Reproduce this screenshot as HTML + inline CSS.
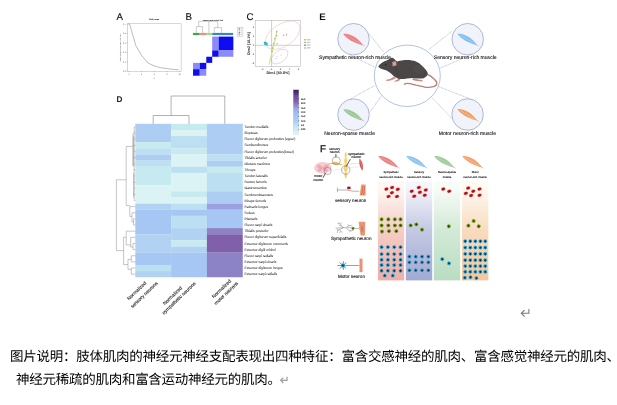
<!DOCTYPE html>
<html><head><meta charset="utf-8"><title>figure</title>
<style>
html,body{margin:0;padding:0;background:#fff}
body{width:617px;height:405px;overflow:hidden;position:relative;font-family:"Liberation Sans",sans-serif}
svg{position:absolute;left:0;top:0;display:block}
text{font-family:"Liberation Sans",sans-serif;text-rendering:geometricPrecision}
</style></head><body>
<svg width="617" height="405" viewBox="0 0 617 405">
<defs>
<filter id="bl" x="-2%" y="-2%" width="104%" height="104%"><feGaussianBlur stdDeviation="0.5"/></filter>
</defs>
<rect width="617" height="405" fill="#fff"/>
<g filter="url(#bl)">
<text x="116.6" y="19.9" font-size="9.7" fill="#111" text-anchor="start" font-weight="normal" stroke="#111" stroke-width="0.15">A</text>
<rect x="127.4" y="23.8" width="53.7" height="47.4" fill="#fff" stroke="#a4a4a4" stroke-width="0.45"/>
<polyline fill="none" stroke="#606060" stroke-width="0.42" stroke-linejoin="round" points="128,23.8 129.7,24.3 135.8,45.6 141.8,55.7 148,63 154,65.8 160.1,67.6 166.3,68.5 172.3,69.3 178.6,69.7"/>
<text x="154.3" y="19.8" font-size="2.1" fill="#111" text-anchor="middle" font-weight="bold">Delta area</text>
<path d="M126.4 24.2H127.4" stroke="#777" stroke-width="0.35"/>
<text x="125.8" y="24.9" font-size="2.0" fill="#555" text-anchor="end" font-weight="normal">0.5</text>
<path d="M126.4 33.6H127.4" stroke="#777" stroke-width="0.35"/>
<text x="125.8" y="34.3" font-size="2.0" fill="#555" text-anchor="end" font-weight="normal">0.4</text>
<path d="M126.4 43H127.4" stroke="#777" stroke-width="0.35"/>
<text x="125.8" y="43.7" font-size="2.0" fill="#555" text-anchor="end" font-weight="normal">0.3</text>
<path d="M126.4 52.4H127.4" stroke="#777" stroke-width="0.35"/>
<text x="125.8" y="53.1" font-size="2.0" fill="#555" text-anchor="end" font-weight="normal">0.2</text>
<path d="M126.4 61.8H127.4" stroke="#777" stroke-width="0.35"/>
<text x="125.8" y="62.5" font-size="2.0" fill="#555" text-anchor="end" font-weight="normal">0.1</text>
<path d="M126.4 71H127.4" stroke="#777" stroke-width="0.35"/>
<text x="125.8" y="71.7" font-size="2.0" fill="#555" text-anchor="end" font-weight="normal">0.0</text>
<path d="M129 71.2V72.2" stroke="#777" stroke-width="0.35"/>
<text x="129" y="74.7" font-size="2.0" fill="#555" text-anchor="middle" font-weight="normal">2</text>
<path d="M141.6 71.2V72.2" stroke="#777" stroke-width="0.35"/>
<text x="141.6" y="74.7" font-size="2.0" fill="#555" text-anchor="middle" font-weight="normal">4</text>
<path d="M154.3 71.2V72.2" stroke="#777" stroke-width="0.35"/>
<text x="154.3" y="74.7" font-size="2.0" fill="#555" text-anchor="middle" font-weight="normal">6</text>
<path d="M167 71.2V72.2" stroke="#777" stroke-width="0.35"/>
<text x="167" y="74.7" font-size="2.0" fill="#555" text-anchor="middle" font-weight="normal">8</text>
<path d="M179.6 71.2V72.2" stroke="#777" stroke-width="0.35"/>
<text x="179.6" y="74.7" font-size="2.0" fill="#555" text-anchor="middle" font-weight="normal">10</text>
<text x="154.3" y="78.6" font-size="2.0" fill="#555" text-anchor="middle" font-weight="normal">k</text>
<text x="121.2" y="47.5" font-size="1.55" fill="#666" text-anchor="middle" font-weight="normal" transform="rotate(-90 121.2 47.5)">relative change in area under CDF curve</text>
<text x="185.6" y="19.9" font-size="9.7" fill="#111" text-anchor="start" font-weight="normal" stroke="#111" stroke-width="0.15">B</text>
<text x="213" y="21.1" font-size="1.95" fill="#000" text-anchor="middle" font-weight="bold">consensus matrix k=4</text>
<path d="M198.7 21.3H217.7 M198.7 21.3V26.6 M196.3 26.6H202.6 M196.3 26.6V32.9 M202.6 26.6V32.9 M208.9 21.3V32.9 M217.7 21.3V27.6 M214.3 27.6H221.6 M214.3 27.6V32.9 M221.6 27.6V32.9" fill="none" stroke="#808080" stroke-width="0.4"/>
<rect x="192.9" y="32.9" width="6.8" height="2.2" fill="#3aa84a"/>
<rect x="199.7" y="32.9" width="6.3" height="2.2" fill="#f58a8a"/>
<rect x="206" y="32.9" width="6.3" height="2.2" fill="#a8d878"/>
<rect x="212.3" y="32.9" width="20.8" height="2.2" fill="#3a86c0"/>
<rect x="212.2" y="36.6" width="6.52" height="13.83" fill="#8a8af8"/>
<rect x="218.72" y="36.6" width="14.62" height="13.83" fill="#0a0af0"/>
<rect x="212.2" y="50.43" width="6.52" height="6.32" fill="#0a0af0"/>
<rect x="218.72" y="50.43" width="14.62" height="6.32" fill="#8a8af8"/>
<rect x="206.27" y="56.75" width="5.93" height="6.12" fill="#0a0af0"/>
<rect x="193.04" y="62.88" width="6.72" height="6.32" fill="#8a8af8"/>
<rect x="199.75" y="62.88" width="6.52" height="6.32" fill="#0a0af0"/>
<rect x="193.04" y="69.2" width="6.72" height="6.52" fill="#0a0af0"/>
<rect x="199.75" y="69.2" width="6.52" height="6.52" fill="#8a8af8"/>
<rect x="237.5" y="27.2" width="5.4" height="9.1" fill="#fff" stroke="#aaa" stroke-width="0.4"/>
<rect x="238.6" y="28.3" width="1.5" height="1.3" fill="#3aa84a"/>
<rect x="240.5" y="28.7" width="1.6" height="0.5" fill="#aaa"/>
<rect x="238.6" y="30.25" width="1.5" height="1.3" fill="#a8d878"/>
<rect x="240.5" y="30.65" width="1.6" height="0.5" fill="#aaa"/>
<rect x="238.6" y="32.2" width="1.5" height="1.3" fill="#3a86c0"/>
<rect x="240.5" y="32.6" width="1.6" height="0.5" fill="#aaa"/>
<rect x="238.6" y="34.15" width="1.5" height="1.3" fill="#f58a8a"/>
<rect x="240.5" y="34.55" width="1.6" height="0.5" fill="#aaa"/>
<text x="246.4" y="20.3" font-size="9.7" fill="#111" text-anchor="start" font-weight="normal" stroke="#111" stroke-width="0.15">C</text>
<rect x="255.2" y="20.4" width="45.4" height="46.2" fill="#fff" stroke="#a0a0a0" stroke-width="0.45"/>
<path d="M271.6 20.4V66.6M255.2 45.3H300.6" stroke="#8c8c8c" stroke-width="0.42"/>
<ellipse cx="282.6" cy="35.2" rx="19.5" ry="11.2" transform="rotate(-33 282.6 35.2)" fill="none" stroke="#f0b0b0" stroke-width="0.45"/>
<ellipse cx="279.6" cy="56.6" rx="9.6" ry="5.6" transform="rotate(-38 279.6 56.6)" fill="none" stroke="#c8a8e8" stroke-width="0.45"/>
<ellipse cx="273.2" cy="47.3" rx="17.6" ry="0.5" transform="rotate(-76.8 273.2 47.3)" fill="#e6efbe" stroke="#b2ca52" stroke-width="0.28"/>
<rect x="272.15" y="47.55" width="0.95" height="0.95" fill="#74a418"/>
<rect x="273.15" y="43.15" width="0.95" height="0.95" fill="#74a418"/>
<rect x="274.35" y="38.15" width="0.95" height="0.95" fill="#74a418"/>
<rect x="276.15" y="31.35" width="0.95" height="0.95" fill="#74a418"/>
<rect x="271.55" y="51.05" width="0.95" height="0.95" fill="#74a418"/>
<circle cx="264.4" cy="42.6" r="0.75" fill="#22b8c8"/>
<circle cx="265.4" cy="43.4" r="0.75" fill="#22b8c8"/>
<circle cx="266.4" cy="42.9" r="0.75" fill="#22b8c8"/>
<circle cx="265" cy="44.4" r="0.75" fill="#22b8c8"/>
<circle cx="266.2" cy="44.3" r="0.75" fill="#22b8c8"/>
<circle cx="267.2" cy="43.8" r="0.75" fill="#22b8c8"/>
<circle cx="265.8" cy="42.2" r="0.75" fill="#22b8c8"/>
<circle cx="267" cy="44.9" r="0.75" fill="#22b8c8"/>
<circle cx="264.8" cy="43.6" r="0.75" fill="#22b8c8"/>
<path d="M276.7 34.8L277.45 36.2H275.95Z" fill="#f06060"/>
<path d="M283.6 34.3L284.35 35.7H282.85Z" fill="#f06060"/>
<path d="M286.4 33.8L287.15 35.2H285.65Z" fill="#f06060"/>
<path d="M277.1 42.8L277.85 44.2H276.35Z" fill="#f06060"/>
<path d="M276.4 56.4H277.6M277 55.8V57" stroke="#c8a0e8" stroke-width="0.35"/>
<path d="M280.6 55.2H281.8M281.2 54.6V55.8" stroke="#c8a0e8" stroke-width="0.35"/>
<path d="M275.2 58.6H276.4M275.8 58V59.2" stroke="#c8a0e8" stroke-width="0.35"/>
<text x="254.2" y="27.9" font-size="2.7" fill="#333" text-anchor="end" font-weight="normal">2</text>
<text x="254.2" y="37" font-size="2.7" fill="#333" text-anchor="end" font-weight="normal">1</text>
<text x="254.2" y="46.1" font-size="2.7" fill="#333" text-anchor="end" font-weight="normal">0</text>
<text x="254.2" y="55.2" font-size="2.7" fill="#333" text-anchor="end" font-weight="normal">-1</text>
<text x="254.2" y="64.4" font-size="2.7" fill="#333" text-anchor="end" font-weight="normal">-2</text>
<text x="262.4" y="69.6" font-size="2.7" fill="#333" text-anchor="middle" font-weight="normal">-2</text>
<text x="271.6" y="69.6" font-size="2.7" fill="#333" text-anchor="middle" font-weight="normal">0</text>
<text x="280.6" y="69.6" font-size="2.7" fill="#333" text-anchor="middle" font-weight="normal">2</text>
<text x="289.6" y="69.6" font-size="2.7" fill="#333" text-anchor="middle" font-weight="normal">4</text>
<text x="298.6" y="69.6" font-size="2.7" fill="#333" text-anchor="middle" font-weight="normal">6</text>
<text x="278" y="73.8" font-size="3.7" fill="#222" text-anchor="middle" font-weight="bold">Dim1 [60.8%]</text>
<text x="249.6" y="43.6" font-size="3.7" fill="#222" text-anchor="middle" font-weight="bold" transform="rotate(-90 249.6 43.6)">Dim2 [16.1%]</text>
<rect x="304" y="38.9" width="2.1" height="1.5" rx="0.4" fill="#f4a0a0"/>
<rect x="306.9" y="39.1" width="3.7" height="0.5" fill="#999"/>
<rect x="306.9" y="39.9" width="3.0" height="0.4" fill="#b0b0b0"/>
<rect x="304" y="41.68" width="2.1" height="1.5" rx="0.4" fill="#a8cc50"/>
<rect x="306.9" y="41.88" width="3.7" height="0.5" fill="#999"/>
<rect x="306.9" y="42.68" width="3.0" height="0.4" fill="#b0b0b0"/>
<rect x="304" y="44.46" width="2.1" height="1.5" rx="0.4" fill="#30c4d4"/>
<rect x="306.9" y="44.66" width="3.7" height="0.5" fill="#999"/>
<rect x="306.9" y="45.46" width="3.0" height="0.4" fill="#b0b0b0"/>
<rect x="304" y="47.24" width="2.1" height="1.5" rx="0.4" fill="#d0a8f4"/>
<rect x="306.9" y="47.44" width="3.7" height="0.5" fill="#999"/>
<rect x="306.9" y="48.24" width="3.0" height="0.4" fill="#b0b0b0"/>
<text x="116.5" y="102.4" font-size="8.2" fill="#222" text-anchor="start" font-weight="bold">D</text>
<rect x="135.3" y="123.8" width="35.85" height="18.46" fill="#aecdf2"/>
<rect x="135.3" y="142.21" width="35.85" height="6.19" fill="#c7e9f0"/>
<rect x="135.3" y="148.34" width="35.85" height="6.19" fill="#bcdff2"/>
<rect x="135.3" y="154.48" width="35.85" height="6.19" fill="#aecdf2"/>
<rect x="135.3" y="160.62" width="35.85" height="6.19" fill="#bcdff2"/>
<rect x="135.3" y="166.75" width="35.85" height="18.46" fill="#c7e9f0"/>
<rect x="135.3" y="185.16" width="35.85" height="18.46" fill="#dcf3f6"/>
<rect x="135.3" y="203.57" width="35.85" height="6.19" fill="#b2d2f4"/>
<rect x="135.3" y="209.7" width="35.85" height="24.59" fill="#a6c6f4"/>
<rect x="135.3" y="234.25" width="35.85" height="18.46" fill="#b2d2f4"/>
<rect x="135.3" y="252.66" width="35.85" height="12.32" fill="#a6c6f4"/>
<rect x="135.3" y="264.93" width="35.85" height="6.19" fill="#bcdff2"/>
<rect x="135.3" y="271.06" width="35.85" height="6.19" fill="#b2d2f4"/>
<rect x="171.1" y="123.8" width="35.85" height="6.19" fill="#c7e9f0"/>
<rect x="171.1" y="129.94" width="35.85" height="6.19" fill="#dcf3f6"/>
<rect x="171.1" y="136.07" width="35.85" height="12.32" fill="#bcdff2"/>
<rect x="171.1" y="148.34" width="35.85" height="6.19" fill="#c7e9f0"/>
<rect x="171.1" y="154.48" width="35.85" height="12.32" fill="#dcf3f6"/>
<rect x="171.1" y="166.75" width="35.85" height="6.19" fill="#bcdff2"/>
<rect x="171.1" y="172.89" width="35.85" height="18.46" fill="#dcf3f6"/>
<rect x="171.1" y="191.3" width="35.85" height="6.19" fill="#c7e9f0"/>
<rect x="171.1" y="197.43" width="35.85" height="6.19" fill="#dcf3f6"/>
<rect x="171.1" y="203.57" width="35.85" height="6.19" fill="#bcdff2"/>
<rect x="171.1" y="209.7" width="35.85" height="6.19" fill="#a6c6f4"/>
<rect x="171.1" y="215.84" width="35.85" height="12.32" fill="#bcdff2"/>
<rect x="171.1" y="228.11" width="35.85" height="12.32" fill="#b2d2f4"/>
<rect x="171.1" y="240.38" width="35.85" height="6.19" fill="#c7e9f0"/>
<rect x="171.1" y="246.52" width="35.85" height="6.19" fill="#b2d2f4"/>
<rect x="171.1" y="252.66" width="35.85" height="24.59" fill="#a6c6f4"/>
<rect x="206.9" y="123.8" width="35.85" height="30.73" fill="#aecdf2"/>
<rect x="206.9" y="154.48" width="35.85" height="6.19" fill="#bcdff2"/>
<rect x="206.9" y="160.62" width="35.85" height="6.19" fill="#aecdf2"/>
<rect x="206.9" y="166.75" width="35.85" height="6.19" fill="#c7e9f0"/>
<rect x="206.9" y="172.89" width="35.85" height="18.46" fill="#bcdff2"/>
<rect x="206.9" y="191.3" width="35.85" height="12.32" fill="#aecdf2"/>
<rect x="206.9" y="203.57" width="35.85" height="6.19" fill="#9c9fe0"/>
<rect x="206.9" y="209.7" width="35.85" height="18.46" fill="#a6c6f4"/>
<rect x="206.9" y="228.11" width="35.85" height="6.19" fill="#8c82c6"/>
<rect x="206.9" y="234.25" width="35.85" height="18.46" fill="#8060aa"/>
<rect x="206.9" y="252.66" width="35.85" height="24.59" fill="#8c82c6"/>
<path d="M153.2 123.8V115.5H189V123.8M171.1 115.5V96H224.8V123.8" fill="none" stroke="#555" stroke-width="0.45"/>
<path d="M116.4 179.8V250.6 M116.4 179.8H126.2 M126.2 146.4V205.6 M126.2 146.4H132.9 M132.9 133.6V166 M126.2 205.6H129.8 M129.8 206.64V216.45 M129.8 206.64H135.3 M129.8 216.45H132 M132 212.77V221.98 M132 212.77H135.3 M132 221.98H133.6 M133.6 218.91V225.04 M133.6 218.91H135.3 M133.6 225.04H135.3 M116.4 250.6H123.6 M123.6 237.2V264.6 M123.6 237.2H126.2 M126.2 231.18V245 M126.2 231.18H135.3 M126.2 245H130.7 M130.7 237.32V247 M130.7 237.32H135.3 M130.7 247H133 M133 243.45V249.59 M133 243.45H135.3 M133 249.59H135.3 M123.6 264.6H128 M128 259.4V269.4 M128 259.4H131.3 M131.3 255.72V261.86 M131.3 255.72H135.3 M131.3 261.86H135.3 M128 269.4H131.3 M131.3 268V274.13 M131.3 268H135.3 M131.3 274.13H135.3 M134.2 126.87V200.5 M133.4 136.07V166.75 M133.6 172.89V197.43 M134.2 126.87H135.3 M133.4 133H135.3 M134.2 139.14H135.3 M133.4 145.28H135.3 M134.2 151.41H135.3 M133.4 157.55H135.3 M134.2 163.68H135.3 M133.4 169.82H135.3 M134.2 175.96H135.3 M133.4 182.09H135.3 M134.2 188.23H135.3 M133.4 194.36H135.3 M134.2 200.5H135.3" fill="none" stroke="#707070" stroke-width="0.4"/>
<text x="244.6" y="128.02" font-size="3.3" fill="#3c3c3c" text-anchor="start" font-weight="normal" stroke="#3c3c3c" stroke-width="0.06">Tendon medialis</text>
<text x="244.6" y="134.15" font-size="3.3" fill="#3c3c3c" text-anchor="start" font-weight="normal" stroke="#3c3c3c" stroke-width="0.06">Iliopsoas</text>
<text x="244.6" y="140.29" font-size="3.3" fill="#3c3c3c" text-anchor="start" font-weight="normal" stroke="#3c3c3c" stroke-width="0.06">Flexor digitorum profundus (upper)</text>
<text x="244.6" y="146.43" font-size="3.3" fill="#3c3c3c" text-anchor="start" font-weight="normal" stroke="#3c3c3c" stroke-width="0.06">Semitendinosus</text>
<text x="244.6" y="152.56" font-size="3.3" fill="#3c3c3c" text-anchor="start" font-weight="normal" stroke="#3c3c3c" stroke-width="0.06">Flexor digitorum profundus(lower)</text>
<text x="244.6" y="158.7" font-size="3.3" fill="#3c3c3c" text-anchor="start" font-weight="normal" stroke="#3c3c3c" stroke-width="0.06">Tibialis anterior</text>
<text x="244.6" y="164.83" font-size="3.3" fill="#3c3c3c" text-anchor="start" font-weight="normal" stroke="#3c3c3c" stroke-width="0.06">Gluteus maximus</text>
<text x="244.6" y="170.97" font-size="3.3" fill="#3c3c3c" text-anchor="start" font-weight="normal" stroke="#3c3c3c" stroke-width="0.06">Triceps</text>
<text x="244.6" y="177.11" font-size="3.3" fill="#3c3c3c" text-anchor="start" font-weight="normal" stroke="#3c3c3c" stroke-width="0.06">Tendon lateralis</text>
<text x="244.6" y="183.24" font-size="3.3" fill="#3c3c3c" text-anchor="start" font-weight="normal" stroke="#3c3c3c" stroke-width="0.06">Rectus femoris</text>
<text x="244.6" y="189.38" font-size="3.3" fill="#3c3c3c" text-anchor="start" font-weight="normal" stroke="#3c3c3c" stroke-width="0.06">Gastrocnemius</text>
<text x="244.6" y="195.51" font-size="3.3" fill="#3c3c3c" text-anchor="start" font-weight="normal" stroke="#3c3c3c" stroke-width="0.06">Semimembranosus</text>
<text x="244.6" y="201.65" font-size="3.3" fill="#3c3c3c" text-anchor="start" font-weight="normal" stroke="#3c3c3c" stroke-width="0.06">Biceps femoris</text>
<text x="244.6" y="207.79" font-size="3.3" fill="#3c3c3c" text-anchor="start" font-weight="normal" stroke="#3c3c3c" stroke-width="0.06">Palmaris longus</text>
<text x="244.6" y="213.92" font-size="3.3" fill="#3c3c3c" text-anchor="start" font-weight="normal" stroke="#3c3c3c" stroke-width="0.06">Soleus</text>
<text x="244.6" y="220.06" font-size="3.3" fill="#3c3c3c" text-anchor="start" font-weight="normal" stroke="#3c3c3c" stroke-width="0.06">Plantaris</text>
<text x="244.6" y="226.19" font-size="3.3" fill="#3c3c3c" text-anchor="start" font-weight="normal" stroke="#3c3c3c" stroke-width="0.06">Flexor carpi ulnaris</text>
<text x="244.6" y="232.33" font-size="3.3" fill="#3c3c3c" text-anchor="start" font-weight="normal" stroke="#3c3c3c" stroke-width="0.06">Tibialis posterior</text>
<text x="244.6" y="238.47" font-size="3.3" fill="#3c3c3c" text-anchor="start" font-weight="normal" stroke="#3c3c3c" stroke-width="0.06">Flexor digitorum superficialis</text>
<text x="244.6" y="244.6" font-size="3.3" fill="#3c3c3c" text-anchor="start" font-weight="normal" stroke="#3c3c3c" stroke-width="0.06">Extensor digitorum communis</text>
<text x="244.6" y="250.74" font-size="3.3" fill="#3c3c3c" text-anchor="start" font-weight="normal" stroke="#3c3c3c" stroke-width="0.06">Extensor digiti minimi</text>
<text x="244.6" y="256.87" font-size="3.3" fill="#3c3c3c" text-anchor="start" font-weight="normal" stroke="#3c3c3c" stroke-width="0.06">Flexor carpi radialis</text>
<text x="244.6" y="263.01" font-size="3.3" fill="#3c3c3c" text-anchor="start" font-weight="normal" stroke="#3c3c3c" stroke-width="0.06">Extensor carpi ulnaris</text>
<text x="244.6" y="269.15" font-size="3.3" fill="#3c3c3c" text-anchor="start" font-weight="normal" stroke="#3c3c3c" stroke-width="0.06">Extensor digitorum longus</text>
<text x="244.6" y="275.28" font-size="3.3" fill="#3c3c3c" text-anchor="start" font-weight="normal" stroke="#3c3c3c" stroke-width="0.06">Extensor carpi radialis</text>
<text transform="translate(136.8 290.8) rotate(-44)" x="0" y="1.6" font-size="4.85" fill="#222" stroke="#222" stroke-width="0.1" text-anchor="middle">Normalized</text>
<text transform="translate(144.2 294.75) rotate(-44)" x="0" y="1.6" font-size="4.85" fill="#222" stroke="#222" stroke-width="0.1" text-anchor="middle">sensory neurons</text>
<text transform="translate(172.4 295.7) rotate(-44)" x="0" y="1.6" font-size="4.85" fill="#222" stroke="#222" stroke-width="0.1" text-anchor="middle">Normalized</text>
<text transform="translate(178.9 298.1) rotate(-44)" x="0" y="1.6" font-size="4.85" fill="#222" stroke="#222" stroke-width="0.1" text-anchor="middle">sympathetic neurons</text>
<text transform="translate(221.5 288.8) rotate(-44)" x="0" y="1.6" font-size="4.85" fill="#222" stroke="#222" stroke-width="0.1" text-anchor="middle">Normalized</text>
<text transform="translate(226.2 293.2) rotate(-44)" x="0" y="1.6" font-size="4.85" fill="#222" stroke="#222" stroke-width="0.1" text-anchor="middle">motor neurons</text>
<linearGradient id="cb" x1="0" y1="0" x2="0" y2="1"><stop offset="0" stop-color="#35245c"/><stop offset="0.07" stop-color="#493277"/><stop offset="0.13" stop-color="#6a4a9a"/><stop offset="0.27" stop-color="#8462b0"/><stop offset="0.36" stop-color="#9488d0"/><stop offset="0.43" stop-color="#9ca8ea"/><stop offset="0.55" stop-color="#a4c0f4"/><stop offset="0.72" stop-color="#aed0f4"/><stop offset="0.83" stop-color="#c4e6f4"/><stop offset="1" stop-color="#e2f6f8"/></linearGradient>
<rect x="293.2" y="89.8" width="5.7" height="44.6" fill="url(#cb)" stroke="#b8c4d8" stroke-width="0.25"/>
<path d="M297.9 98.9H299.3" stroke="#334" stroke-width="0.4"/>
<text x="300.9" y="99.7" font-size="2.3" fill="#222" text-anchor="start" font-weight="normal" stroke="#222" stroke-width="0.08">35.0</text>
<path d="M297.9 103.3H299.3" stroke="#334" stroke-width="0.4"/>
<text x="300.9" y="104.1" font-size="2.3" fill="#222" text-anchor="start" font-weight="normal" stroke="#222" stroke-width="0.08">30.0</text>
<path d="M297.9 107.7H299.3" stroke="#334" stroke-width="0.4"/>
<text x="300.9" y="108.5" font-size="2.3" fill="#222" text-anchor="start" font-weight="normal" stroke="#222" stroke-width="0.08">25.0</text>
<path d="M297.9 112.1H299.3" stroke="#334" stroke-width="0.4"/>
<text x="300.9" y="112.9" font-size="2.3" fill="#222" text-anchor="start" font-weight="normal" stroke="#222" stroke-width="0.08">20.0</text>
<path d="M297.9 116.4H299.3" stroke="#334" stroke-width="0.4"/>
<text x="300.9" y="117.2" font-size="2.3" fill="#222" text-anchor="start" font-weight="normal" stroke="#222" stroke-width="0.08">15.0</text>
<path d="M297.9 120.8H299.3" stroke="#334" stroke-width="0.4"/>
<text x="300.9" y="121.6" font-size="2.3" fill="#222" text-anchor="start" font-weight="normal" stroke="#222" stroke-width="0.08">10.0</text>
<path d="M297.9 125.2H299.3" stroke="#334" stroke-width="0.4"/>
<text x="300.9" y="126" font-size="2.3" fill="#222" text-anchor="start" font-weight="normal" stroke="#222" stroke-width="0.08">5.0</text>
<path d="M297.9 129.6H299.3" stroke="#334" stroke-width="0.4"/>
<text x="300.9" y="130.4" font-size="2.3" fill="#222" text-anchor="start" font-weight="normal" stroke="#222" stroke-width="0.08">0.00</text>
<text x="319.3" y="19.9" font-size="9.6" fill="#111" text-anchor="start" font-weight="bold">E</text>
<path d="M369.4 34.4L383.6 52" stroke="#7684a8" stroke-width="0.5" stroke-dasharray="0.9 0.6" fill="none"/>
<path d="M349 54.4L375 67.4" stroke="#7684a8" stroke-width="0.5" stroke-dasharray="0.9 0.6" fill="none"/>
<path d="M452.2 31L428.4 49.8" stroke="#7684a8" stroke-width="0.5" stroke-dasharray="0.9 0.6" fill="none"/>
<path d="M472 54.4L439.4 68.4" stroke="#7684a8" stroke-width="0.5" stroke-dasharray="0.9 0.6" fill="none"/>
<path d="M349.9 99.3L374.6 85.6" stroke="#7684a8" stroke-width="0.5" stroke-dasharray="0.9 0.6" fill="none"/>
<path d="M368.9 113.6L381.8 95.2" stroke="#7684a8" stroke-width="0.5" stroke-dasharray="0.9 0.6" fill="none"/>
<path d="M472.3 99.7L437.4 86.2" stroke="#7684a8" stroke-width="0.5" stroke-dasharray="0.9 0.6" fill="none"/>
<path d="M452.2 118.8L431.8 97.4" stroke="#7684a8" stroke-width="0.5" stroke-dasharray="0.9 0.6" fill="none"/>
<ellipse cx="407.3" cy="75.8" rx="33.0" ry="30.7" fill="#fff" stroke="#a3b8e0" stroke-width="0.85"/>
<circle cx="353.5" cy="39.2" r="15.75" fill="#f0f3fa" stroke="#a4b0cc" stroke-width="0.9"/>
<path d="M343.3 34C346.44 38.62 354.19 43.39 363.1 45.2C358.24 38.09 348.89 32.43 343.3 34Z" fill="#ea8082"/>
<path d="M345.44 34.83L360.21 43.38" stroke="#f4b0ae" stroke-width="0.5" fill="none"/>
<path d="M362.11 44.64L364.49 45.98" stroke="#d0a8a8" stroke-width="0.6" fill="none"/>
<circle cx="467.7" cy="39.2" r="15.75" fill="#f0f3fa" stroke="#a4b0cc" stroke-width="0.9"/>
<path d="M457.5 34C460.64 38.62 468.39 43.39 477.3 45.2C472.44 38.09 463.09 32.43 457.5 34Z" fill="#86bff2"/>
<path d="M459.64 34.83L474.41 43.38" stroke="#b4d9f8" stroke-width="0.5" fill="none"/>
<path d="M476.31 44.64L478.69 45.98" stroke="#d0a8a8" stroke-width="0.6" fill="none"/>
<circle cx="353.5" cy="114.6" r="15.75" fill="#f0f3fa" stroke="#a4b0cc" stroke-width="0.9"/>
<path d="M343.3 109.4C346.44 114.02 354.19 118.79 363.1 120.6C358.24 113.49 348.89 107.83 343.3 109.4Z" fill="#9cc898"/>
<path d="M345.44 110.23L360.21 118.78" stroke="#c0deba" stroke-width="0.5" fill="none"/>
<path d="M362.11 120.04L364.49 121.38" stroke="#d0a8a8" stroke-width="0.6" fill="none"/>
<circle cx="467.6" cy="114.5" r="15.75" fill="#f0f3fa" stroke="#a4b0cc" stroke-width="0.9"/>
<path d="M457.4 109.3C460.54 113.92 468.29 118.69 477.2 120.5C472.34 113.39 462.99 107.73 457.4 109.3Z" fill="#f2a068"/>
<path d="M459.54 110.13L474.31 118.68" stroke="#f8c8a6" stroke-width="0.5" fill="none"/>
<path d="M476.21 119.94L478.59 121.28" stroke="#d0a8a8" stroke-width="0.6" fill="none"/>
<text x="355.1" y="58.9" font-size="5.05" fill="#1a1a1a" text-anchor="middle" font-weight="normal" stroke="#1a1a1a" stroke-width="0.12">Sympathetic neuron-rich muscle</text>
<text x="465.2" y="58.9" font-size="5.05" fill="#1a1a1a" text-anchor="middle" font-weight="normal" stroke="#1a1a1a" stroke-width="0.12">Sensory neuron-rich muscle</text>
<text x="349.6" y="135.1" font-size="5.05" fill="#1a1a1a" text-anchor="middle" font-weight="normal" stroke="#1a1a1a" stroke-width="0.12">Neuron-sparse muscle</text>
<text x="467.4" y="135.1" font-size="5.05" fill="#1a1a1a" text-anchor="middle" font-weight="normal" stroke="#1a1a1a" stroke-width="0.12">Motor neuron-rich muscle</text>
<path d="M427.3 74.4C430 75.4 432 76.8 433.5 78.5C435.6 80.2 436.9 81.8 436.8 83.4C436.6 85.2 435.4 86.3 433.5 86.7C431 87.4 428.4 87.5 425.8 87.3C422.4 86.8 419.2 85.8 415.9 85.1C413 84.4 410 83.4 407.1 83.4C406 83.4 405 83.7 404.3 84.2" fill="none" stroke="#bd7d75" stroke-width="1.35" stroke-linecap="round"/>
<path d="M393.8 76.4C392.4 78 390.4 78.8 386.1 79.7L386.4 80.9C390 80.7 393 79.9 396 78.2Z" fill="#c98d86"/>
<path d="M398.4 78.2C397.8 79.6 396.4 80.4 394.4 80.8L394.8 81.7C397.4 81.6 399.6 80.8 400.6 79Z" fill="#c28780"/>
<path d="M413.1 77.8C415 79.2 419 79.5 422.7 80.1L422.3 81.4C418.6 81.4 414.8 81 412.2 79.8Z" fill="#c98d86"/>
<path d="M378.4 66.3C379.6 64.4 380.6 63.6 381.7 63C383.6 61.6 385.4 60.8 387.2 60.3C388.6 59.6 390 58.4 391.6 57.7C392.6 57.6 393.4 58 393.8 58.6C394.6 59.6 395.8 60.8 397.2 61.4C400.4 60.4 403.6 59.9 407.1 59.9C410.4 59.9 413.4 60.4 415.9 61.4C418.6 62.6 420.8 64.2 422.5 66.3C424.6 68.2 426.4 70.2 427.5 72.4C428 73.6 427.6 74.8 426.9 75.7C425.6 77.2 424.2 78.2 422.5 78.5C419.4 78.9 416 78.2 412.6 77.9C408.8 77.9 405.2 79 401.6 79C399.4 78.9 397.6 78.4 396 77.4C394.2 76.6 392.8 75.4 391.6 74C390 72.4 388.2 71.2 386.1 70.2C384.2 69.6 382.4 69.2 380.6 68.5C379.4 68 378.4 67.2 378.4 66.3Z" fill="#4b4646"/>
<ellipse cx="418.6" cy="70.2" rx="6.2" ry="4.6" fill="#575252" opacity="0.4" transform="rotate(35 419.4 70.6)"/>
<path d="M396.5 66.5C395.6 70 396.6 73.6 399.4 76" fill="none" stroke="#3c3838" stroke-width="0.8" opacity="0.7"/>
<path d="M392.1 61.9L396 60.9L396.7 65.2L392.7 66.4Z" fill="#c98d86"/>
<path d="M393.3 62.6L395.4 62.1L395.8 64.7L393.7 65.3Z" fill="#d9a7a0"/>
<circle cx="385.6" cy="64.7" r="0.6" fill="#1a1616"/>
<text x="319.9" y="152.1" font-size="9.7" fill="#111" text-anchor="start" font-weight="normal" stroke="#111" stroke-width="0.3">F</text>
<ellipse cx="322.8" cy="167.9" rx="8.7" ry="5.8" fill="#f6ccd0"/>
<path d="M317.4 165.4C319.6 163.6 321.6 165.6 322.8 167.6C324 165.4 326 163.8 328.2 165.6C329 167 327.4 168 326 168.2C327.6 169 328.6 170.6 327.4 171.6C325.4 172.6 323.6 170.6 322.8 168.6C322 170.8 320 172.4 318 171.2C317 170 318.2 168.8 319.6 168.4C318 168 316.6 166.8 317.4 165.4Z" fill="#eea8b2"/>
<path d="M341 164.3L359.4 163.2" fill="none" stroke="#f2bcbc" stroke-width="0.5"/>
<path d="M330.6 170C336 170.4 341 169 346 168.4L359.4 166.5" fill="none" stroke="#bfe2f2" stroke-width="0.5"/>
<path d="M345.75 151.4C347.3 153.8 347.1 156 346.2 157.6C347.8 159.4 347.8 162 346.4 163.8C348.2 166 348.2 170.4 346.4 172.4C347.6 174.2 347.2 176.8 345.75 178.8C344.3 176.8 343.9 174.2 345.1 172.4C343.3 170.4 343.3 166 345.1 163.8C343.7 162 343.7 159.4 345.3 157.6C344.4 156 344.2 153.8 345.75 151.4Z" fill="#f5d272"/>
<path d="M326.6 165.6C327.6 163.6 329.6 163 331.4 163.1C333 162.2 334.4 161.7 335.4 161.7C336.8 161.8 338.2 162.6 339.6 163.4C340.6 163.9 341.8 164.2 343 164.4C341.6 164.9 340.4 165 339.2 164.8C337.8 164.9 336.4 164.9 335.2 164.7C333.8 164.5 332.4 164.1 331.2 164C329.6 163.9 328 164.6 326.6 165.6Z" fill="#f0bc58"/>
<circle cx="336.3" cy="160.7" r="4.0" fill="none" stroke="#555" stroke-width="0.42"/>
<circle cx="345.75" cy="170.0" r="4.1" fill="none" stroke="#555" stroke-width="0.42"/>
<circle cx="327.6" cy="171.0" r="3.6" fill="none" stroke="#555" stroke-width="0.42"/>
<path d="M335.9 153.9V157.4M350.4 159.1L346.3 166.4M325.5 173.1L323 177.8" stroke="#1a1a1a" stroke-width="0.7" fill="none"/>
<text x="334.6" y="150.4" font-size="3.1" fill="#111" text-anchor="middle" font-weight="normal" stroke="#111" stroke-width="0.1">sensory</text>
<text x="334.6" y="153.4" font-size="3.1" fill="#111" text-anchor="middle" font-weight="normal" stroke="#111" stroke-width="0.1">neuron</text>
<text x="356.4" y="154.9" font-size="3.1" fill="#111" text-anchor="middle" font-weight="normal" stroke="#111" stroke-width="0.1">sympathetic</text>
<text x="356.4" y="158" font-size="3.1" fill="#111" text-anchor="middle" font-weight="normal" stroke="#111" stroke-width="0.1">neuron</text>
<text x="318.3" y="177.4" font-size="3.1" fill="#111" text-anchor="middle" font-weight="normal" stroke="#111" stroke-width="0.1">motor</text>
<text x="318.3" y="180.6" font-size="3.1" fill="#111" text-anchor="middle" font-weight="normal" stroke="#111" stroke-width="0.1">neuron</text>
<path d="M359.6 158.6C362.6 161.4 363.6 166.2 362.6 170.8C359.8 168 358.6 163 359.6 158.6Z" fill="#d4585a"/>
<path d="M359.9 159.4C361.4 162.6 362 167 362 170" stroke="#f0a09a" stroke-width="0.4" fill="none"/>
<path d="M337.4 187.6V192.2M337.4 190H347C349 190 351 191.2 353 191.2H359.4" fill="none" stroke="#555" stroke-width="0.45"/>
<ellipse cx="348.9" cy="187.9" rx="1.9" ry="1.4" fill="#b81414"/>
<path d="M359.6 195.6L361.2 184.6H365.6V195.6Z" fill="#ef9a74"/>
<path d="M361.6 195L363 186M363.6 195L364.6 186.6" stroke="#c8503c" stroke-width="0.6" fill="none"/>
<text x="350.6" y="202" font-size="4.55" fill="#222" text-anchor="middle" font-weight="normal" stroke="#222" stroke-width="0.12">sensory neuron</text>
<path d="M353 228.4C350 226.6 346.6 228.6 343.6 227.5C341.6 226.4 340.2 224.2 338.4 222.6M341.4 225.4L339.2 225.6M340.2 224L341.8 222.4M339.4 223.4L337.6 223.8M343.6 227.5C341.6 228.4 339.6 229.4 337.8 230.4C337.4 231.4 337.4 232.4 337.2 233.2M339.6 229.4L340.6 231.6L342.6 232.2M338.4 230.2L336.6 229.4M340.6 231.6L339.4 233M343.6 227.5L335.6 228.2M346.6 227.8C347.6 225.4 350.6 224.8 352.6 226.2M347 228.6C348.6 231 351.6 231.4 353.4 230.2M349 226.2L347.6 224.4M350.6 230.6L349.4 232.2M353 228.4C355 227.4 356.6 229.2 358.6 228.2L361.6 226.2M358.6 228.2L361.2 231.4M361.6 226.2L362.4 224.4M361.2 231.4L362 233" fill="none" stroke="#5a5a5a" stroke-width="0.4"/>
<circle cx="353.0" cy="228.5" r="1.45" fill="#5f9a16"/><circle cx="353.0" cy="228.5" r="0.6" fill="#1c2a08"/>
<path d="M358.6 221.8H365.4L364.9 235.4H360.6Z" fill="#ee9a78"/>
<path d="M360.6 222.4L361.8 235M363.2 222.4L363.4 235" stroke="#dc7c64" stroke-width="0.5" fill="none"/>
<path d="M361.4 226.2L362.6 227.6L361.6 229L362.8 230.4L361.8 231.6" stroke="#7a3a30" stroke-width="0.45" fill="none"/>
<text x="351.2" y="240.2" font-size="4.55" fill="#222" text-anchor="middle" font-weight="normal" stroke="#222" stroke-width="0.12">Sympathetic neuron</text>
<path d="M343 265.5H359.4" stroke="#444" stroke-width="0.5" fill="none"/>
<path d="M343 265.5L339.4 262.4M343 265.5L339.6 268.8M343 265.5L343.4 261.2M343 265.5L343.4 269.8M343 265.5L337.4 265.5M343 265.5L346.4 262.6M343 265.5L346.2 268.6" stroke="#222" stroke-width="0.5" fill="none"/>
<circle cx="343.0" cy="265.5" r="2.1" fill="#199ad0"/><circle cx="343.0" cy="265.5" r="0.9" fill="#0e2a44"/>
<rect x="359.4" y="258.6" width="3.2" height="13.6" fill="#ef9f80"/>
<path d="M361 259V272" stroke="#c85a44" stroke-width="0.6" stroke-dasharray="1 0.6" fill="none"/>
<text x="351.4" y="277.6" font-size="4.55" fill="#222" text-anchor="middle" font-weight="normal" stroke="#222" stroke-width="0.12">Motor neuron</text>
<linearGradient id="cg0" x1="0" y1="0" x2="0" y2="1"><stop offset="0" stop-color="#fef8f4"/><stop offset="0.06" stop-color="#fef8f4"/><stop offset="0.5" stop-color="#f6ccc5"/><stop offset="1" stop-color="#f0aea6"/></linearGradient>
<rect x="377.9" y="181.6" width="26.2" height="98.8" fill="url(#cg0)"/>
<path d="M378.3 156.3C381.49 160.92 389.33 165.69 398.3 167.5C393.35 160.38 383.92 154.72 378.3 156.3Z" fill="#e88486"/>
<path d="M380.46 157.13L395.38 165.68" stroke="#f2b0ae" stroke-width="0.5" fill="none"/>
<path d="M397.3 166.94L399.7 168.28" stroke="#d0a8a8" stroke-width="0.6" fill="none"/>
<text x="391" y="172.8" font-size="2.75" fill="#111" text-anchor="middle" font-weight="normal" stroke="#111" stroke-width="0.1">Sympathetic</text>
<text x="391" y="177.7" font-size="2.75" fill="#111" text-anchor="middle" font-weight="normal" stroke="#111" stroke-width="0.1">neuron-rich muscle</text>
<linearGradient id="cg1" x1="0" y1="0" x2="0" y2="1"><stop offset="0" stop-color="#f5f5fb"/><stop offset="0.06" stop-color="#f5f5fb"/><stop offset="0.5" stop-color="#c3c8e3"/><stop offset="1" stop-color="#a2aad3"/></linearGradient>
<rect x="405.8" y="181.6" width="26.4" height="98.8" fill="url(#cg1)"/>
<path d="M406.2 156.3C409.39 160.92 417.23 165.69 426.2 167.5C421.25 160.38 411.82 154.72 406.2 156.3Z" fill="#90c4f2"/>
<path d="M408.36 157.13L423.28 165.68" stroke="#b8dcf8" stroke-width="0.5" fill="none"/>
<path d="M425.2 166.94L427.6 168.28" stroke="#d0a8a8" stroke-width="0.6" fill="none"/>
<text x="419" y="172.8" font-size="2.75" fill="#111" text-anchor="middle" font-weight="normal" stroke="#111" stroke-width="0.1">Sensory</text>
<text x="419" y="177.7" font-size="2.75" fill="#111" text-anchor="middle" font-weight="normal" stroke="#111" stroke-width="0.1">neuron-rich muscle</text>
<linearGradient id="cg2" x1="0" y1="0" x2="0" y2="1"><stop offset="0" stop-color="#f8fcf8"/><stop offset="0.06" stop-color="#f8fcf8"/><stop offset="0.5" stop-color="#d2e9d7"/><stop offset="1" stop-color="#b9ddc1"/></linearGradient>
<rect x="433.8" y="181.6" width="26.4" height="98.8" fill="url(#cg2)"/>
<path d="M434.2 156.3C437.39 160.92 445.23 165.69 454.2 167.5C449.25 160.38 439.82 154.72 434.2 156.3Z" fill="#a2cb9e"/>
<path d="M436.36 157.13L451.28 165.68" stroke="#c2e0bc" stroke-width="0.5" fill="none"/>
<path d="M453.2 166.94L455.6 168.28" stroke="#d0a8a8" stroke-width="0.6" fill="none"/>
<text x="447" y="172.8" font-size="2.75" fill="#111" text-anchor="middle" font-weight="normal" stroke="#111" stroke-width="0.1">Neuron-sparse</text>
<text x="447" y="177.7" font-size="2.75" fill="#111" text-anchor="middle" font-weight="normal" stroke="#111" stroke-width="0.1">muscle</text>
<linearGradient id="cg3" x1="0" y1="0" x2="0" y2="1"><stop offset="0" stop-color="#fffaf2"/><stop offset="0.06" stop-color="#fffaf2"/><stop offset="0.5" stop-color="#f8dbbe"/><stop offset="1" stop-color="#f4c69c"/></linearGradient>
<rect x="461.9" y="181.6" width="26.5" height="98.8" fill="url(#cg3)"/>
<path d="M462.3 156.3C465.49 160.92 473.33 165.69 482.3 167.5C477.35 160.38 467.92 154.72 462.3 156.3Z" fill="#f2a470"/>
<path d="M464.46 157.13L479.38 165.68" stroke="#f8caa8" stroke-width="0.5" fill="none"/>
<path d="M481.3 166.94L483.7 168.28" stroke="#d0a8a8" stroke-width="0.6" fill="none"/>
<text x="475.15" y="172.8" font-size="2.75" fill="#111" text-anchor="middle" font-weight="normal" stroke="#111" stroke-width="0.1">Motor</text>
<text x="475.15" y="177.7" font-size="2.75" fill="#111" text-anchor="middle" font-weight="normal" stroke="#111" stroke-width="0.1">neuron-rich muscle</text>
<ellipse cx="386.43" cy="189.09" rx="2.5" ry="1.9" fill="#e86a6a" opacity="0.45"/>
<ellipse cx="386.43" cy="189.09" rx="1.9" ry="1.35" fill="#b41010" transform="rotate(-20 386.43 189.09)"/>
<ellipse cx="392.12" cy="187.41" rx="2.5" ry="1.9" fill="#e86a6a" opacity="0.45"/>
<ellipse cx="392.12" cy="187.41" rx="1.9" ry="1.35" fill="#b41010" transform="rotate(-20 392.12 187.41)"/>
<ellipse cx="397.81" cy="189.3" rx="2.5" ry="1.9" fill="#e86a6a" opacity="0.45"/>
<ellipse cx="397.81" cy="189.3" rx="1.9" ry="1.35" fill="#b41010" transform="rotate(-20 397.81 189.3)"/>
<ellipse cx="391.91" cy="192.68" rx="2.5" ry="1.9" fill="#e86a6a" opacity="0.45"/>
<ellipse cx="391.91" cy="192.68" rx="1.9" ry="1.35" fill="#b41010" transform="rotate(-20 391.91 192.68)"/>
<ellipse cx="388.54" cy="196.47" rx="2.5" ry="1.9" fill="#e86a6a" opacity="0.45"/>
<ellipse cx="388.54" cy="196.47" rx="1.9" ry="1.35" fill="#b41010" transform="rotate(-20 388.54 196.47)"/>
<ellipse cx="396.97" cy="196.47" rx="2.5" ry="1.9" fill="#e86a6a" opacity="0.45"/>
<ellipse cx="396.97" cy="196.47" rx="1.9" ry="1.35" fill="#b41010" transform="rotate(-20 396.97 196.47)"/>
<ellipse cx="411.72" cy="191.2" rx="2.5" ry="1.9" fill="#e86a6a" opacity="0.45"/>
<ellipse cx="411.72" cy="191.2" rx="1.9" ry="1.35" fill="#b41010" transform="rotate(-20 411.72 191.2)"/>
<ellipse cx="418.88" cy="187.41" rx="2.5" ry="1.9" fill="#e86a6a" opacity="0.45"/>
<ellipse cx="418.88" cy="187.41" rx="1.9" ry="1.35" fill="#b41010" transform="rotate(-20 418.88 187.41)"/>
<ellipse cx="425.84" cy="189.94" rx="2.5" ry="1.9" fill="#e86a6a" opacity="0.45"/>
<ellipse cx="425.84" cy="189.94" rx="1.9" ry="1.35" fill="#b41010" transform="rotate(-20 425.84 189.94)"/>
<ellipse cx="419.94" cy="192.25" rx="2.5" ry="1.9" fill="#e86a6a" opacity="0.45"/>
<ellipse cx="419.94" cy="192.25" rx="1.9" ry="1.35" fill="#b41010" transform="rotate(-20 419.94 192.25)"/>
<ellipse cx="414.25" cy="196.26" rx="2.5" ry="1.9" fill="#e86a6a" opacity="0.45"/>
<ellipse cx="414.25" cy="196.26" rx="1.9" ry="1.35" fill="#b41010" transform="rotate(-20 414.25 196.26)"/>
<ellipse cx="424.78" cy="195.2" rx="2.5" ry="1.9" fill="#e86a6a" opacity="0.45"/>
<ellipse cx="424.78" cy="195.2" rx="1.9" ry="1.35" fill="#b41010" transform="rotate(-20 424.78 195.2)"/>
<ellipse cx="443.32" cy="189.09" rx="2.5" ry="1.9" fill="#e86a6a" opacity="0.45"/>
<ellipse cx="443.32" cy="189.09" rx="1.9" ry="1.35" fill="#b41010" transform="rotate(-20 443.32 189.09)"/>
<ellipse cx="449.22" cy="191.2" rx="2.5" ry="1.9" fill="#e86a6a" opacity="0.45"/>
<ellipse cx="449.22" cy="191.2" rx="1.9" ry="1.35" fill="#b41010" transform="rotate(-20 449.22 191.2)"/>
<ellipse cx="468.19" cy="188.04" rx="2.5" ry="1.9" fill="#e86a6a" opacity="0.45"/>
<ellipse cx="468.19" cy="188.04" rx="1.9" ry="1.35" fill="#b41010" transform="rotate(-20 468.19 188.04)"/>
<ellipse cx="479.57" cy="189.09" rx="2.5" ry="1.9" fill="#e86a6a" opacity="0.45"/>
<ellipse cx="479.57" cy="189.09" rx="1.9" ry="1.35" fill="#b41010" transform="rotate(-20 479.57 189.09)"/>
<ellipse cx="473.24" cy="191.2" rx="2.5" ry="1.9" fill="#e86a6a" opacity="0.45"/>
<ellipse cx="473.24" cy="191.2" rx="1.9" ry="1.35" fill="#b41010" transform="rotate(-20 473.24 191.2)"/>
<ellipse cx="465.87" cy="193.31" rx="2.5" ry="1.9" fill="#e86a6a" opacity="0.45"/>
<ellipse cx="465.87" cy="193.31" rx="1.9" ry="1.35" fill="#b41010" transform="rotate(-20 465.87 193.31)"/>
<ellipse cx="471.14" cy="195.42" rx="2.5" ry="1.9" fill="#e86a6a" opacity="0.45"/>
<ellipse cx="471.14" cy="195.42" rx="1.9" ry="1.35" fill="#b41010" transform="rotate(-20 471.14 195.42)"/>
<ellipse cx="479.57" cy="195.2" rx="2.5" ry="1.9" fill="#e86a6a" opacity="0.45"/>
<ellipse cx="479.57" cy="195.2" rx="1.9" ry="1.35" fill="#b41010" transform="rotate(-20 479.57 195.2)"/>
<polygon points="383.84,219.78 382.9,220.32 382.64,221.38 381.63,220.98 380.64,221.42 380.32,220.39 379.36,219.89 379.97,219 379.76,217.94 380.84,217.86 381.53,217.03 382.27,217.82 383.35,217.85 383.19,218.92" fill="#6f9a14"/><circle cx="381.59" cy="219.33" r="0.85" fill="#1e2c06"/>
<polygon points="390.59,219.78 389.65,220.32 389.38,221.38 388.37,220.98 387.38,221.42 387.07,220.39 386.1,219.89 386.71,219 386.5,217.94 387.58,217.86 388.28,217.03 389.01,217.82 390.09,217.85 389.93,218.92" fill="#6f9a14"/><circle cx="388.33" cy="219.33" r="0.85" fill="#1e2c06"/>
<polygon points="397.12,219.78 396.18,220.32 395.91,221.38 394.9,220.98 393.92,221.42 393.6,220.39 392.63,219.89 393.25,219 393.03,217.94 394.11,217.86 394.81,217.03 395.54,217.82 396.63,217.85 396.46,218.92" fill="#6f9a14"/><circle cx="394.86" cy="219.33" r="0.85" fill="#1e2c06"/>
<polygon points="402.81,219.78 401.87,220.32 401.6,221.38 400.59,220.98 399.6,221.42 399.29,220.39 398.32,219.89 398.93,219 398.72,217.94 399.8,217.86 400.5,217.03 401.23,217.82 402.31,217.85 402.15,218.92" fill="#6f9a14"/><circle cx="400.55" cy="219.33" r="0.85" fill="#1e2c06"/>
<polygon points="383.84,225.9 382.9,226.44 382.64,227.49 381.63,227.09 380.64,227.53 380.32,226.5 379.36,226 379.97,225.11 379.76,224.05 380.84,223.97 381.53,223.14 382.27,223.93 383.35,223.96 383.19,225.03" fill="#6f9a14"/><circle cx="381.59" cy="225.44" r="0.85" fill="#1e2c06"/>
<polygon points="390.59,225.9 389.65,226.44 389.38,227.49 388.37,227.09 387.38,227.53 387.07,226.5 386.1,226 386.71,225.11 386.5,224.05 387.58,223.97 388.28,223.14 389.01,223.93 390.09,223.96 389.93,225.03" fill="#6f9a14"/><circle cx="388.33" cy="225.44" r="0.85" fill="#1e2c06"/>
<polygon points="397.12,225.9 396.18,226.44 395.91,227.49 394.9,227.09 393.92,227.53 393.6,226.5 392.63,226 393.25,225.11 393.03,224.05 394.11,223.97 394.81,223.14 395.54,223.93 396.63,223.96 396.46,225.03" fill="#6f9a14"/><circle cx="394.86" cy="225.44" r="0.85" fill="#1e2c06"/>
<polygon points="402.81,225.9 401.87,226.44 401.6,227.49 400.59,227.09 399.6,227.53 399.29,226.5 398.32,226 398.93,225.11 398.72,224.05 399.8,223.97 400.5,223.14 401.23,223.93 402.31,223.96 402.15,225.03" fill="#6f9a14"/><circle cx="400.55" cy="225.44" r="0.85" fill="#1e2c06"/>
<polygon points="384.26,232.01 383.32,232.55 383.06,233.6 382.05,233.2 381.06,233.64 380.75,232.61 379.78,232.12 380.39,231.22 380.18,230.16 381.26,230.08 381.95,229.25 382.69,230.05 383.77,230.07 383.61,231.14" fill="#6f9a14"/><circle cx="382.01" cy="231.55" r="0.85" fill="#1e2c06"/>
<polygon points="391.22,231.58 390.28,232.12 390.01,233.17 389,232.78 388.02,233.22 387.7,232.19 386.73,231.69 387.35,230.8 387.13,229.74 388.21,229.66 388.91,228.83 389.64,229.62 390.73,229.65 390.56,230.72" fill="#6f9a14"/><circle cx="388.96" cy="231.13" r="0.85" fill="#1e2c06"/>
<polygon points="398.59,231.58 397.65,232.12 397.39,233.17 396.38,232.78 395.39,233.22 395.07,232.19 394.11,231.69 394.72,230.8 394.51,229.74 395.59,229.66 396.28,228.83 397.02,229.62 398.1,229.65 397.94,230.72" fill="#6f9a14"/><circle cx="396.34" cy="231.13" r="0.85" fill="#1e2c06"/>
<polygon points="412.92,225.9 411.98,226.44 411.71,227.49 410.71,227.09 409.72,227.53 409.4,226.5 408.44,226 409.05,225.11 408.83,224.05 409.91,223.97 410.61,223.14 411.35,223.93 412.43,223.96 412.27,225.03" fill="#6f9a14"/><circle cx="410.67" cy="225.44" r="0.85" fill="#1e2c06"/>
<polygon points="418.61,224.84 417.67,225.38 417.4,226.43 416.4,226.03 415.41,226.48 415.09,225.44 414.13,224.95 414.74,224.06 414.52,223 415.6,222.92 416.3,222.09 417.03,222.88 418.12,222.91 417.95,223.98" fill="#6f9a14"/><circle cx="416.35" cy="224.38" r="0.85" fill="#1e2c06"/>
<polygon points="424.3,230.11 423.36,230.65 423.09,231.7 422.08,231.3 421.1,231.75 420.78,230.71 419.81,230.22 420.43,229.32 420.21,228.26 421.29,228.18 421.99,227.35 422.72,228.15 423.81,228.17 423.64,229.25" fill="#6f9a14"/><circle cx="422.04" cy="229.65" r="0.85" fill="#1e2c06"/>
<polygon points="451.06,226.74 450.12,227.28 449.85,228.33 448.84,227.93 447.86,228.38 447.54,227.34 446.57,226.85 447.19,225.95 446.97,224.89 448.05,224.81 448.75,223.98 449.48,224.78 450.57,224.8 450.4,225.87" fill="#6f9a14"/><circle cx="448.8" cy="226.28" r="0.85" fill="#1e2c06"/>
<polygon points="470.65,226.11 469.71,226.65 469.45,227.7 468.44,227.3 467.45,227.74 467.13,226.71 466.17,226.22 466.78,225.32 466.57,224.26 467.65,224.18 468.34,223.35 469.08,224.15 470.16,224.17 470,225.24" fill="#6f9a14"/><circle cx="468.4" cy="225.65" r="0.85" fill="#1e2c06"/>
<polygon points="475.92,221.47 474.98,222.01 474.71,223.06 473.71,222.66 472.72,223.11 472.4,222.07 471.44,221.58 472.05,220.69 471.83,219.62 472.91,219.54 473.61,218.71 474.35,219.51 475.43,219.54 475.27,220.61" fill="#6f9a14"/><circle cx="473.67" cy="221.01" r="0.85" fill="#1e2c06"/>
<polygon points="480.98,226.74 480.04,227.28 479.77,228.33 478.76,227.93 477.78,228.38 477.46,227.34 476.49,226.85 477.11,225.95 476.89,224.89 477.97,224.81 478.67,223.98 479.4,224.78 480.49,224.8 480.32,225.87" fill="#6f9a14"/><circle cx="478.72" cy="226.28" r="0.85" fill="#1e2c06"/>
<polygon points="383.83,247.84 382.61,248.24 382.11,249.43 381.15,248.57 379.86,248.74 380.13,247.47 379.34,246.45 380.57,246.04 381.07,244.85 382.03,245.71 383.31,245.54 383.05,246.81" fill="#1a98cc"/><circle cx="381.59" cy="247.14" r="0.9" fill="#0c2440"/>
<polygon points="390.15,247.84 388.93,248.24 388.43,249.43 387.47,248.57 386.19,248.74 386.45,247.47 385.66,246.45 386.89,246.04 387.39,244.85 388.35,245.71 389.63,245.54 389.37,246.81" fill="#1a98cc"/><circle cx="387.91" cy="247.14" r="0.9" fill="#0c2440"/>
<polygon points="396.48,247.84 395.25,248.24 394.75,249.43 393.79,248.57 392.51,248.74 392.77,247.47 391.99,246.45 393.21,246.04 393.71,244.85 394.67,245.71 395.95,245.54 395.69,246.81" fill="#1a98cc"/><circle cx="394.23" cy="247.14" r="0.9" fill="#0c2440"/>
<polygon points="402.8,247.84 401.57,248.24 401.07,249.43 400.11,248.57 398.83,248.74 399.09,247.47 398.31,246.45 399.53,246.04 400.03,244.85 401,245.71 402.28,245.54 402.01,246.81" fill="#1a98cc"/><circle cx="400.55" cy="247.14" r="0.9" fill="#0c2440"/>
<polygon points="383.83,254.79 382.61,255.19 382.11,256.39 381.15,255.53 379.86,255.69 380.13,254.43 379.34,253.4 380.57,252.99 381.07,251.8 382.03,252.66 383.31,252.5 383.05,253.76" fill="#1a98cc"/><circle cx="381.59" cy="254.09" r="0.9" fill="#0c2440"/>
<polygon points="390.15,254.79 388.93,255.19 388.43,256.39 387.47,255.53 386.19,255.69 386.45,254.43 385.66,253.4 386.89,252.99 387.39,251.8 388.35,252.66 389.63,252.5 389.37,253.76" fill="#1a98cc"/><circle cx="387.91" cy="254.09" r="0.9" fill="#0c2440"/>
<polygon points="396.48,254.79 395.25,255.19 394.75,256.39 393.79,255.53 392.51,255.69 392.77,254.43 391.99,253.4 393.21,252.99 393.71,251.8 394.67,252.66 395.95,252.5 395.69,253.76" fill="#1a98cc"/><circle cx="394.23" cy="254.09" r="0.9" fill="#0c2440"/>
<polygon points="402.8,254.79 401.57,255.19 401.07,256.39 400.11,255.53 398.83,255.69 399.09,254.43 398.31,253.4 399.53,252.99 400.03,251.8 401,252.66 402.28,252.5 402.01,253.76" fill="#1a98cc"/><circle cx="400.55" cy="254.09" r="0.9" fill="#0c2440"/>
<polygon points="383.83,260.48 382.61,260.88 382.11,262.07 381.15,261.22 379.86,261.38 380.13,260.12 379.34,259.09 380.57,258.68 381.07,257.49 382.03,258.35 383.31,258.19 383.05,259.45" fill="#1a98cc"/><circle cx="381.59" cy="259.78" r="0.9" fill="#0c2440"/>
<polygon points="390.15,260.48 388.93,260.88 388.43,262.07 387.47,261.22 386.19,261.38 386.45,260.12 385.66,259.09 386.89,258.68 387.39,257.49 388.35,258.35 389.63,258.19 389.37,259.45" fill="#1a98cc"/><circle cx="387.91" cy="259.78" r="0.9" fill="#0c2440"/>
<polygon points="396.48,260.48 395.25,260.88 394.75,262.07 393.79,261.22 392.51,261.38 392.77,260.12 391.99,259.09 393.21,258.68 393.71,257.49 394.67,258.35 395.95,258.19 395.69,259.45" fill="#1a98cc"/><circle cx="394.23" cy="259.78" r="0.9" fill="#0c2440"/>
<polygon points="402.8,260.48 401.57,260.88 401.07,262.07 400.11,261.22 398.83,261.38 399.09,260.12 398.31,259.09 399.53,258.68 400.03,257.49 401,258.35 402.28,258.19 402.01,259.45" fill="#1a98cc"/><circle cx="400.55" cy="259.78" r="0.9" fill="#0c2440"/>
<polygon points="383.83,265.75 382.61,266.15 382.11,267.34 381.15,266.48 379.86,266.65 380.13,265.38 379.34,264.36 380.57,263.95 381.07,262.76 382.03,263.62 383.31,263.45 383.05,264.72" fill="#1a98cc"/><circle cx="381.59" cy="265.05" r="0.9" fill="#0c2440"/>
<polygon points="390.15,265.75 388.93,266.15 388.43,267.34 387.47,266.48 386.19,266.65 386.45,265.38 385.66,264.36 386.89,263.95 387.39,262.76 388.35,263.62 389.63,263.45 389.37,264.72" fill="#1a98cc"/><circle cx="387.91" cy="265.05" r="0.9" fill="#0c2440"/>
<polygon points="396.48,265.75 395.25,266.15 394.75,267.34 393.79,266.48 392.51,266.65 392.77,265.38 391.99,264.36 393.21,263.95 393.71,262.76 394.67,263.62 395.95,263.45 395.69,264.72" fill="#1a98cc"/><circle cx="394.23" cy="265.05" r="0.9" fill="#0c2440"/>
<polygon points="402.8,265.75 401.57,266.15 401.07,267.34 400.11,266.48 398.83,266.65 399.09,265.38 398.31,264.36 399.53,263.95 400.03,262.76 401,263.62 402.28,263.45 402.01,264.72" fill="#1a98cc"/><circle cx="400.55" cy="265.05" r="0.9" fill="#0c2440"/>
<polygon points="383.83,271.43 382.61,271.84 382.11,273.03 381.15,272.17 379.86,272.34 380.13,271.07 379.34,270.05 380.57,269.64 381.07,268.45 382.03,269.31 383.31,269.14 383.05,270.41" fill="#1a98cc"/><circle cx="381.59" cy="270.74" r="0.9" fill="#0c2440"/>
<polygon points="390.15,271.43 388.93,271.84 388.43,273.03 387.47,272.17 386.19,272.34 386.45,271.07 385.66,270.05 386.89,269.64 387.39,268.45 388.35,269.31 389.63,269.14 389.37,270.41" fill="#1a98cc"/><circle cx="387.91" cy="270.74" r="0.9" fill="#0c2440"/>
<polygon points="396.48,271.43 395.25,271.84 394.75,273.03 393.79,272.17 392.51,272.34 392.77,271.07 391.99,270.05 393.21,269.64 393.71,268.45 394.67,269.31 395.95,269.14 395.69,270.41" fill="#1a98cc"/><circle cx="394.23" cy="270.74" r="0.9" fill="#0c2440"/>
<polygon points="402.8,271.43 401.57,271.84 401.07,273.03 400.11,272.17 398.83,272.34 399.09,271.07 398.31,270.05 399.53,269.64 400.03,268.45 401,269.31 402.28,269.14 402.01,270.41" fill="#1a98cc"/><circle cx="400.55" cy="270.74" r="0.9" fill="#0c2440"/>
<polygon points="386.99,276.28 385.77,276.69 385.27,277.88 384.31,277.02 383.03,277.18 383.29,275.92 382.5,274.89 383.73,274.49 384.23,273.29 385.19,274.15 386.47,273.99 386.21,275.25" fill="#1a98cc"/><circle cx="384.75" cy="275.59" r="0.9" fill="#0c2440"/>
<polygon points="395,276.28 393.78,276.69 393.28,277.88 392.31,277.02 391.03,277.18 391.29,275.92 390.51,274.89 391.74,274.49 392.23,273.29 393.2,274.15 394.48,273.99 394.22,275.25" fill="#1a98cc"/><circle cx="392.76" cy="275.59" r="0.9" fill="#0c2440"/>
<polygon points="411.65,257.32 410.42,257.72 409.92,258.91 408.96,258.06 407.68,258.22 407.94,256.96 407.16,255.93 408.38,255.52 408.88,254.33 409.84,255.19 411.13,255.03 410.86,256.29" fill="#1a98cc"/><circle cx="409.4" cy="256.62" r="0.9" fill="#0c2440"/>
<polygon points="417.97,257.32 416.74,257.72 416.24,258.91 415.28,258.06 414,258.22 414.26,256.96 413.48,255.93 414.7,255.52 415.2,254.33 416.17,255.19 417.45,255.03 417.19,256.29" fill="#1a98cc"/><circle cx="415.72" cy="256.62" r="0.9" fill="#0c2440"/>
<polygon points="424.29,257.32 423.06,257.72 422.56,258.91 421.6,258.06 420.32,258.22 420.58,256.96 419.8,255.93 421.02,255.52 421.52,254.33 422.49,255.19 423.77,255.03 423.51,256.29" fill="#1a98cc"/><circle cx="422.04" cy="256.62" r="0.9" fill="#0c2440"/>
<polygon points="430.61,257.32 429.38,257.72 428.89,258.91 427.92,258.06 426.64,258.22 426.9,256.96 426.12,255.93 427.35,255.52 427.84,254.33 428.81,255.19 430.09,255.03 429.83,256.29" fill="#1a98cc"/><circle cx="428.36" cy="256.62" r="0.9" fill="#0c2440"/>
<polygon points="411.65,263.01 410.42,263.41 409.92,264.6 408.96,263.74 407.68,263.91 407.94,262.64 407.16,261.62 408.38,261.21 408.88,260.02 409.84,260.88 411.13,260.71 410.86,261.98" fill="#1a98cc"/><circle cx="409.4" cy="262.31" r="0.9" fill="#0c2440"/>
<polygon points="417.97,263.01 416.74,263.41 416.24,264.6 415.28,263.74 414,263.91 414.26,262.64 413.48,261.62 414.7,261.21 415.2,260.02 416.17,260.88 417.45,260.71 417.19,261.98" fill="#1a98cc"/><circle cx="415.72" cy="262.31" r="0.9" fill="#0c2440"/>
<polygon points="424.29,263.01 423.06,263.41 422.56,264.6 421.6,263.74 420.32,263.91 420.58,262.64 419.8,261.62 421.02,261.21 421.52,260.02 422.49,260.88 423.77,260.71 423.51,261.98" fill="#1a98cc"/><circle cx="422.04" cy="262.31" r="0.9" fill="#0c2440"/>
<polygon points="430.61,263.01 429.38,263.41 428.89,264.6 427.92,263.74 426.64,263.91 426.9,262.64 426.12,261.62 427.35,261.21 427.84,260.02 428.81,260.88 430.09,260.71 429.83,261.98" fill="#1a98cc"/><circle cx="428.36" cy="262.31" r="0.9" fill="#0c2440"/>
<polygon points="411.65,271.01 410.42,271.42 409.92,272.61 408.96,271.75 407.68,271.92 407.94,270.65 407.16,269.62 408.38,269.22 408.88,268.03 409.84,268.89 411.13,268.72 410.86,269.99" fill="#1a98cc"/><circle cx="409.4" cy="270.32" r="0.9" fill="#0c2440"/>
<polygon points="417.97,271.01 416.74,271.42 416.24,272.61 415.28,271.75 414,271.92 414.26,270.65 413.48,269.62 414.7,269.22 415.2,268.03 416.17,268.89 417.45,268.72 417.19,269.99" fill="#1a98cc"/><circle cx="415.72" cy="270.32" r="0.9" fill="#0c2440"/>
<polygon points="424.29,271.01 423.06,271.42 422.56,272.61 421.6,271.75 420.32,271.92 420.58,270.65 419.8,269.62 421.02,269.22 421.52,268.03 422.49,268.89 423.77,268.72 423.51,269.99" fill="#1a98cc"/><circle cx="422.04" cy="270.32" r="0.9" fill="#0c2440"/>
<polygon points="430.61,271.01 429.38,271.42 428.89,272.61 427.92,271.75 426.64,271.92 426.9,270.65 426.12,269.62 427.35,269.22 427.84,268.03 428.81,268.89 430.09,268.72 429.83,269.99" fill="#1a98cc"/><circle cx="428.36" cy="270.32" r="0.9" fill="#0c2440"/>
<polygon points="444.52,259.85 443.29,260.25 442.79,261.44 441.83,260.58 440.55,260.75 440.81,259.48 440.03,258.46 441.25,258.05 441.75,256.86 442.71,257.72 444,257.55 443.73,258.82" fill="#1a98cc"/><circle cx="442.27" cy="259.15" r="0.9" fill="#0c2440"/>
<polygon points="451.26,264.06 450.03,264.47 449.53,265.66 448.57,264.8 447.29,264.96 447.55,263.7 446.77,262.67 447.99,262.26 448.49,261.07 449.46,261.93 450.74,261.77 450.48,263.03" fill="#1a98cc"/><circle cx="449.01" cy="263.36" r="0.9" fill="#0c2440"/>
<polygon points="467.48,241.94 466.26,242.34 465.76,243.53 464.79,242.67 463.51,242.84 463.78,241.57 462.99,240.55 464.22,240.14 464.72,238.95 465.68,239.81 466.96,239.64 466.7,240.91" fill="#1a98cc"/><circle cx="465.24" cy="241.24" r="0.9" fill="#0c2440"/>
<polygon points="472.54,241.94 471.31,242.34 470.82,243.53 469.85,242.67 468.57,242.84 468.83,241.57 468.05,240.55 469.28,240.14 469.77,238.95 470.74,239.81 472.02,239.64 471.76,240.91" fill="#1a98cc"/><circle cx="470.29" cy="241.24" r="0.9" fill="#0c2440"/>
<polygon points="477.6,241.94 476.37,242.34 475.87,243.53 474.91,242.67 473.63,242.84 473.89,241.57 473.11,240.55 474.33,240.14 474.83,238.95 475.8,239.81 477.08,239.64 476.81,240.91" fill="#1a98cc"/><circle cx="475.35" cy="241.24" r="0.9" fill="#0c2440"/>
<polygon points="482.65,241.94 481.43,242.34 480.93,243.53 479.97,242.67 478.68,242.84 478.95,241.57 478.16,240.55 479.39,240.14 479.89,238.95 480.85,239.81 482.13,239.64 481.87,240.91" fill="#1a98cc"/><circle cx="480.41" cy="241.24" r="0.9" fill="#0c2440"/>
<polygon points="487.5,241.94 486.27,242.34 485.78,243.53 484.81,242.67 483.53,242.84 483.79,241.57 483.01,240.55 484.24,240.14 484.73,238.95 485.7,239.81 486.98,239.64 486.72,240.91" fill="#1a98cc"/><circle cx="485.25" cy="241.24" r="0.9" fill="#0c2440"/>
<polygon points="467.48,248.26 466.26,248.66 465.76,249.85 464.79,249 463.51,249.16 463.78,247.89 462.99,246.87 464.22,246.46 464.72,245.27 465.68,246.13 466.96,245.97 466.7,247.23" fill="#1a98cc"/><circle cx="465.24" cy="247.56" r="0.9" fill="#0c2440"/>
<polygon points="472.54,248.26 471.31,248.66 470.82,249.85 469.85,249 468.57,249.16 468.83,247.89 468.05,246.87 469.28,246.46 469.77,245.27 470.74,246.13 472.02,245.97 471.76,247.23" fill="#1a98cc"/><circle cx="470.29" cy="247.56" r="0.9" fill="#0c2440"/>
<polygon points="477.6,248.26 476.37,248.66 475.87,249.85 474.91,249 473.63,249.16 473.89,247.89 473.11,246.87 474.33,246.46 474.83,245.27 475.8,246.13 477.08,245.97 476.81,247.23" fill="#1a98cc"/><circle cx="475.35" cy="247.56" r="0.9" fill="#0c2440"/>
<polygon points="482.65,248.26 481.43,248.66 480.93,249.85 479.97,249 478.68,249.16 478.95,247.89 478.16,246.87 479.39,246.46 479.89,245.27 480.85,246.13 482.13,245.97 481.87,247.23" fill="#1a98cc"/><circle cx="480.41" cy="247.56" r="0.9" fill="#0c2440"/>
<polygon points="487.5,248.26 486.27,248.66 485.78,249.85 484.81,249 483.53,249.16 483.79,247.89 483.01,246.87 484.24,246.46 484.73,245.27 485.7,246.13 486.98,245.97 486.72,247.23" fill="#1a98cc"/><circle cx="485.25" cy="247.56" r="0.9" fill="#0c2440"/>
<polygon points="467.48,254.58 466.26,254.98 465.76,256.17 464.79,255.32 463.51,255.48 463.78,254.22 462.99,253.19 464.22,252.78 464.72,251.59 465.68,252.45 466.96,252.29 466.7,253.55" fill="#1a98cc"/><circle cx="465.24" cy="253.88" r="0.9" fill="#0c2440"/>
<polygon points="472.54,254.58 471.31,254.98 470.82,256.17 469.85,255.32 468.57,255.48 468.83,254.22 468.05,253.19 469.28,252.78 469.77,251.59 470.74,252.45 472.02,252.29 471.76,253.55" fill="#1a98cc"/><circle cx="470.29" cy="253.88" r="0.9" fill="#0c2440"/>
<polygon points="477.6,254.58 476.37,254.98 475.87,256.17 474.91,255.32 473.63,255.48 473.89,254.22 473.11,253.19 474.33,252.78 474.83,251.59 475.8,252.45 477.08,252.29 476.81,253.55" fill="#1a98cc"/><circle cx="475.35" cy="253.88" r="0.9" fill="#0c2440"/>
<polygon points="482.65,254.58 481.43,254.98 480.93,256.17 479.97,255.32 478.68,255.48 478.95,254.22 478.16,253.19 479.39,252.78 479.89,251.59 480.85,252.45 482.13,252.29 481.87,253.55" fill="#1a98cc"/><circle cx="480.41" cy="253.88" r="0.9" fill="#0c2440"/>
<polygon points="487.5,254.58 486.27,254.98 485.78,256.17 484.81,255.32 483.53,255.48 483.79,254.22 483.01,253.19 484.24,252.78 484.73,251.59 485.7,252.45 486.98,252.29 486.72,253.55" fill="#1a98cc"/><circle cx="485.25" cy="253.88" r="0.9" fill="#0c2440"/>
<polygon points="467.48,260.9 466.26,261.3 465.76,262.5 464.79,261.64 463.51,261.8 463.78,260.54 462.99,259.51 464.22,259.1 464.72,257.91 465.68,258.77 466.96,258.61 466.7,259.87" fill="#1a98cc"/><circle cx="465.24" cy="260.2" r="0.9" fill="#0c2440"/>
<polygon points="472.54,260.9 471.31,261.3 470.82,262.5 469.85,261.64 468.57,261.8 468.83,260.54 468.05,259.51 469.28,259.1 469.77,257.91 470.74,258.77 472.02,258.61 471.76,259.87" fill="#1a98cc"/><circle cx="470.29" cy="260.2" r="0.9" fill="#0c2440"/>
<polygon points="477.6,260.9 476.37,261.3 475.87,262.5 474.91,261.64 473.63,261.8 473.89,260.54 473.11,259.51 474.33,259.1 474.83,257.91 475.8,258.77 477.08,258.61 476.81,259.87" fill="#1a98cc"/><circle cx="475.35" cy="260.2" r="0.9" fill="#0c2440"/>
<polygon points="482.65,260.9 481.43,261.3 480.93,262.5 479.97,261.64 478.68,261.8 478.95,260.54 478.16,259.51 479.39,259.1 479.89,257.91 480.85,258.77 482.13,258.61 481.87,259.87" fill="#1a98cc"/><circle cx="480.41" cy="260.2" r="0.9" fill="#0c2440"/>
<polygon points="487.5,260.9 486.27,261.3 485.78,262.5 484.81,261.64 483.53,261.8 483.79,260.54 483.01,259.51 484.24,259.1 484.73,257.91 485.7,258.77 486.98,258.61 486.72,259.87" fill="#1a98cc"/><circle cx="485.25" cy="260.2" r="0.9" fill="#0c2440"/>
<polygon points="467.48,266.8 466.26,267.2 465.76,268.4 464.79,267.54 463.51,267.7 463.78,266.44 462.99,265.41 464.22,265 464.72,263.81 465.68,264.67 466.96,264.51 466.7,265.77" fill="#1a98cc"/><circle cx="465.24" cy="266.1" r="0.9" fill="#0c2440"/>
<polygon points="472.54,266.8 471.31,267.2 470.82,268.4 469.85,267.54 468.57,267.7 468.83,266.44 468.05,265.41 469.28,265 469.77,263.81 470.74,264.67 472.02,264.51 471.76,265.77" fill="#1a98cc"/><circle cx="470.29" cy="266.1" r="0.9" fill="#0c2440"/>
<polygon points="477.6,266.8 476.37,267.2 475.87,268.4 474.91,267.54 473.63,267.7 473.89,266.44 473.11,265.41 474.33,265 474.83,263.81 475.8,264.67 477.08,264.51 476.81,265.77" fill="#1a98cc"/><circle cx="475.35" cy="266.1" r="0.9" fill="#0c2440"/>
<polygon points="482.65,266.8 481.43,267.2 480.93,268.4 479.97,267.54 478.68,267.7 478.95,266.44 478.16,265.41 479.39,265 479.89,263.81 480.85,264.67 482.13,264.51 481.87,265.77" fill="#1a98cc"/><circle cx="480.41" cy="266.1" r="0.9" fill="#0c2440"/>
<polygon points="487.5,266.8 486.27,267.2 485.78,268.4 484.81,267.54 483.53,267.7 483.79,266.44 483.01,265.41 484.24,265 484.73,263.81 485.7,264.67 486.98,264.51 486.72,265.77" fill="#1a98cc"/><circle cx="485.25" cy="266.1" r="0.9" fill="#0c2440"/>
<polygon points="467.48,272.49 466.26,272.89 465.76,274.08 464.79,273.23 463.51,273.39 463.78,272.13 462.99,271.1 464.22,270.69 464.72,269.5 465.68,270.36 466.96,270.2 466.7,271.46" fill="#1a98cc"/><circle cx="465.24" cy="271.79" r="0.9" fill="#0c2440"/>
<polygon points="472.54,272.49 471.31,272.89 470.82,274.08 469.85,273.23 468.57,273.39 468.83,272.13 468.05,271.1 469.28,270.69 469.77,269.5 470.74,270.36 472.02,270.2 471.76,271.46" fill="#1a98cc"/><circle cx="470.29" cy="271.79" r="0.9" fill="#0c2440"/>
<polygon points="477.6,272.49 476.37,272.89 475.87,274.08 474.91,273.23 473.63,273.39 473.89,272.13 473.11,271.1 474.33,270.69 474.83,269.5 475.8,270.36 477.08,270.2 476.81,271.46" fill="#1a98cc"/><circle cx="475.35" cy="271.79" r="0.9" fill="#0c2440"/>
<polygon points="482.65,272.49 481.43,272.89 480.93,274.08 479.97,273.23 478.68,273.39 478.95,272.13 478.16,271.1 479.39,270.69 479.89,269.5 480.85,270.36 482.13,270.2 481.87,271.46" fill="#1a98cc"/><circle cx="480.41" cy="271.79" r="0.9" fill="#0c2440"/>
<polygon points="487.5,272.49 486.27,272.89 485.78,274.08 484.81,273.23 483.53,273.39 483.79,272.13 483.01,271.1 484.24,270.69 484.73,269.5 485.7,270.36 486.98,270.2 486.72,271.46" fill="#1a98cc"/><circle cx="485.25" cy="271.79" r="0.9" fill="#0c2440"/>
<polygon points="467.06,278.39 465.84,278.79 465.34,279.98 464.37,279.13 463.09,279.29 463.35,278.03 462.57,277 463.8,276.59 464.3,275.4 465.26,276.26 466.54,276.1 466.28,277.36" fill="#1a98cc"/><circle cx="464.82" cy="277.69" r="0.9" fill="#0c2440"/>
<polygon points="472.75,277.97 471.53,278.37 471.03,279.56 470.06,278.7 468.78,278.87 469.04,277.6 468.26,276.58 469.49,276.17 469.98,274.98 470.95,275.84 472.23,275.67 471.97,276.94" fill="#1a98cc"/><circle cx="470.51" cy="277.27" r="0.9" fill="#0c2440"/>
<polygon points="478.65,278.81 477.42,279.21 476.93,280.41 475.96,279.55 474.68,279.71 474.94,278.45 474.16,277.42 475.39,277.01 475.88,275.82 476.85,276.68 478.13,276.52 477.87,277.78" fill="#1a98cc"/><circle cx="476.41" cy="278.11" r="0.9" fill="#0c2440"/>
</g>
<g fill="#000">
<text x="10" y="361.2" font-size="13.5" textLength="610" lengthAdjust="spacing" style="font-family:'Liberation Sans','Noto Sans CJK SC',sans-serif">图片说明：肢体肌肉的神经元神经支配表现出四种特征：富含交感神经的肌肉、富含感觉神经元的肌肉、</text>
<text x="16" y="384.3" font-size="13.5" textLength="265" lengthAdjust="spacing" style="font-family:'Liberation Sans','Noto Sans CJK SC',sans-serif">神经元稀疏的肌肉和富含运动神经元的肌肉。</text>
</g>
<path d="M528.9 309V313.3H521.3M524.6 310.1L521.3 313.3L524.6 316.5" fill="none" stroke="#7a7a7a" stroke-width="1.1"/>
<path d="M287 376.69V380.3H280.62M283.39 377.61L280.62 380.3L283.39 382.99" fill="none" stroke="#a0a0a0" stroke-width="1.25"/>
</svg>
</body></html>
